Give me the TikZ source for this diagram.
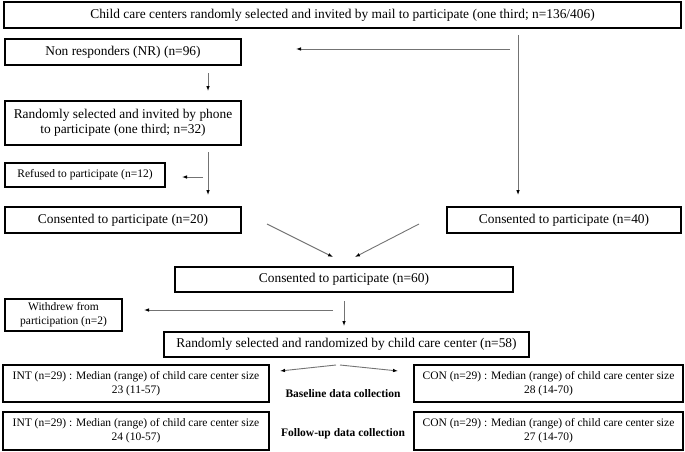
\documentclass[tikz,border=0pt]{standalone}
\usepackage{fontspec}
\setmainfont{Liberation Serif}
\usetikzlibrary{arrows.meta,calc}
\begin{document}
\begin{tikzpicture}[x=1pt,y=-1pt,
  box/.style={draw=black,line width=2pt,inner sep=0pt,align=center,
    font=\fontsize{13.4}{15.5}\selectfont},
  sbox/.style={box,font=\fontsize{11.5}{14}\selectfont},
  lbl/.style={font=\fontsize{11.5}{14}\selectfont\bfseries,inner sep=0pt},
  arr/.style={draw=black!55,line width=0.9pt,-{Latex[length=5pt,width=3.6pt,black]}}
]
\useasboundingbox (0,0) rectangle (685,452);
% nodes
\node[box,minimum width=677,minimum height=26] (top) at (342.5,15)
  {Child care centers randomly selected and invited by mail to participate (one third; n=136/406)};
\node[box,minimum width=236,minimum height=26] (nr) at (123,52) {Non responders (NR) (n=96)};
\node[box,minimum width=236,minimum height=44] (phone) at (123,123)
  {Randomly selected and invited by phone\\to participate (one third; n=32)};
\node[sbox,minimum width=160,minimum height=24] (ref) at (85,175) {Refused to participate (n=12)};
\node[box,minimum width=236,minimum height=26] (c20) at (123,220) {Consented to participate (n=20)};
\node[box,minimum width=234,minimum height=26] (c40) at (564,220) {Consented to participate (n=40)};
\node[box,minimum width=338,minimum height=25] (c60) at (344,279.5) {Consented to participate (n=60)};
\node[sbox,minimum width=117,minimum height=32] (wd) at (63.5,315)
  {Withdrew from\\participation (n=2)};
\node[box,minimum width=365,minimum height=25] (rand) at (346.5,344.5)
  {Randomly selected and randomized by child care center (n=58)};
\node[sbox,minimum width=266,minimum height=37] (int1) at (136,383.5)
  {INT (n=29) : Median (range) of child care center size\\23 (11-57)};
\node[sbox,minimum width=269,minimum height=37] (con1) at (548.5,383.5)
  {CON (n=29) : Median (range) of child care center size\\28 (14-70)};
\node[sbox,minimum width=266,minimum height=38] (int2) at (136,431)
  {INT (n=29) : Median (range) of child care center size\\24 (10-57)};
\node[sbox,minimum width=269,minimum height=38] (con2) at (548.5,431)
  {CON (n=29) : Median (range) of child care center size\\27 (14-70)};
\node[lbl] (base) at (343,394) {Baseline data collection};
\node[lbl] (fup) at (343,434) {Follow-up data collection};
% connector end points
\coordinate (xr) at (518,0);
\coordinate (xl) at (208,0);
\coordinate (j1) at (510,49);
\coordinate (j2) at (203,177);
\coordinate (d1) at (267,224);
\coordinate (d1e) at (333,257);
\coordinate (d2) at (419,224);
\coordinate (d2e) at (355,257);
\coordinate (xm) at (344,0);
\coordinate (j3) at (333,310);
\coordinate (s1) at (336,365);
\coordinate (s1e) at (280,371);
\coordinate (s2) at (340,365);
\coordinate (s2e) at (398,371);
% connectors
\draw[arr,shorten <=6pt,shorten >=11pt] (top.south -| xr) -- (c40.north -| xr);
\draw[arr,shorten >=54pt] (j1) -- (j1 -| nr.east);
\draw[arr,shorten <=7pt,shorten >=9pt] (nr.south -| xl) -- (phone.north -| xl);
\draw[arr,shorten <=6pt,shorten >=11pt] (phone.south -| xl) -- (c20.north -| xl);
\draw[arr,shorten >=16pt] (j2) -- (j2 -| ref.east);
\draw[arr] (d1) -- (d1e);
\draw[arr] (d2) -- (d2e);
\draw[arr,shorten <=8pt,shorten >=5pt] (c60.south -| xm) -- (rand.north -| xm);
\draw[arr,shorten >=21pt] (j3) -- (j3 -| wd.east);
\draw[arr] (s1) -- (s1e);
\draw[arr] (s2) -- (s2e);
\end{tikzpicture}
\end{document}
